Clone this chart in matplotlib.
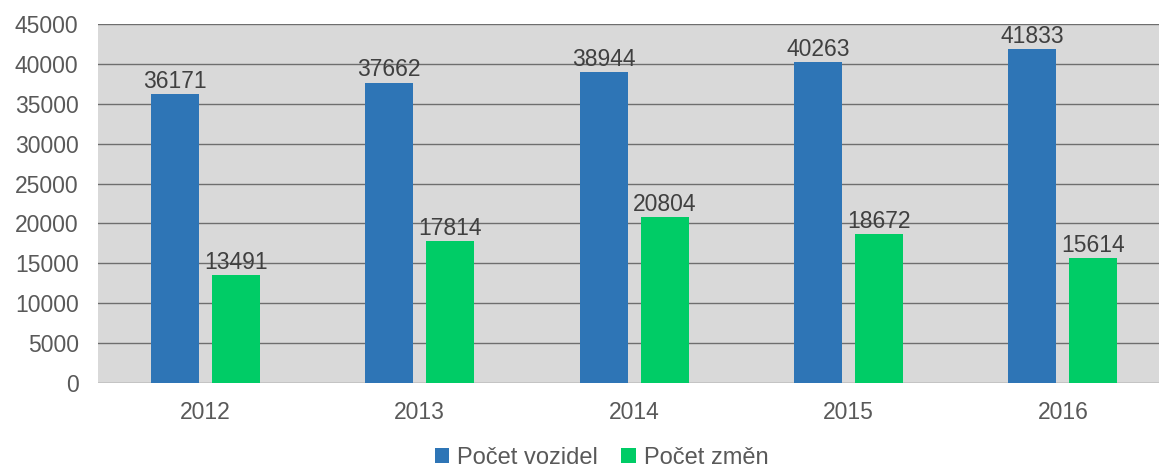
import matplotlib.pyplot as plt
import numpy as np

years = ['2012', '2013', '2014', '2015', '2016']
vozidel = [36171, 37662, 38944, 40263, 41833]
zmen = [13491, 17814, 20804, 18672, 15614]

blue = '#2E75B6'
green = '#00CC66'
txt = '#595959'

plt.rcParams['font.family'] = ['Liberation Sans', 'DejaVu Sans']

fig = plt.figure(figsize=(11.59, 4.72), dpi=100)
# plot area runs a bit past the right edge, like in the original
ax = fig.add_axes([0.0846, 0.1886, 0.925, 0.7606])
ax.set_facecolor('#D9D9D9')

x = np.arange(len(years))
w = 0.224
off = 0.142
b1 = ax.bar(x - off, vozidel, w, color=blue, label='Počet vozidel', zorder=3)
b2 = ax.bar(x + off, zmen, w, color=green, label='Počet změn', zorder=3)

for bars, vals in ((b1, vozidel), (b2, zmen)):
    for r, v in zip(bars, vals):
        ax.text(r.get_x() + r.get_width() / 2, v + 150, str(v),
                ha='center', va='bottom', fontsize=16.5, color='#404040', zorder=4)

ax.set_xlim(-0.5, 4.5)
ax.set_ylim(0, 45000)
ax.set_yticks(range(0, 45001, 5000))
ax.set_xticks(x)
ax.set_xticklabels(years)
ax.yaxis.grid(True, color='#6E6E6E', linewidth=1, zorder=1)
ax.set_axisbelow(True)
for s in ax.spines.values():
    s.set_visible(False)
ax.tick_params(axis='both', length=0, labelsize=16.5, colors=txt)
ax.tick_params(axis='x', pad=13)
ax.tick_params(axis='y', pad=14)

leg = fig.legend(loc='lower center', bbox_to_anchor=(0.519, -0.038), ncol=2,
                 frameon=False, fontsize=17, handlelength=0.6, handleheight=0.6,
                 handletextpad=0.35, columnspacing=1.0)
for t in leg.get_texts():
    t.set_color(txt)

fig.savefig('out.png', dpi=100)
